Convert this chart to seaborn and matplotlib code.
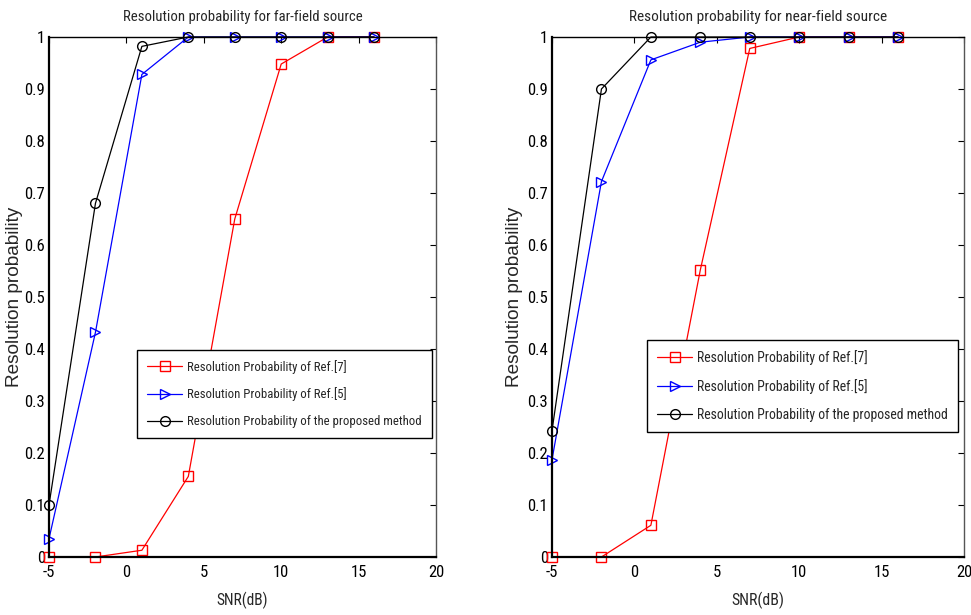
import matplotlib
matplotlib.use("Agg")
import matplotlib.pyplot as plt
from matplotlib import font_manager as fm
from matplotlib.font_manager import FontProperties
from matplotlib.textpath import TextPath
import seaborn as sns
import pandas as pd

sns.set_theme(style="white")
plt.rcParams['font.family'] = ['Liberation Sans', 'DejaVu Sans']

snr = [-5, -2, 1, 4, 7, 10, 13, 16]

far_ref7 = [0.0, 0.0, 0.013, 0.155, 0.65, 0.948, 1.0, 1.0]
far_ref5 = [0.035, 0.432, 0.928, 1.0, 1.0, 1.0, 1.0, 1.0]
far_prop = [0.10, 0.68, 0.982, 1.0, 1.0, 1.0, 1.0, 1.0]

near_ref7 = [0.0, 0.0, 0.061, 0.552, 0.978, 1.0, 1.0, 1.0]
near_ref5 = [0.187, 0.722, 0.956, 0.99, 1.0, 1.0, 1.0, 1.0]
near_prop = [0.243, 0.90, 1.0, 1.0, 1.0, 1.0, 1.0, 1.0]

labels = ["Resolution Probability of Ref.[7]",
          "Resolution Probability of Ref.[5]",
          "Resolution Probability of the proposed method"]
titles = ["Resolution probability for far-field source",
          "Resolution probability for near-field source"]
xlabel = "SNR(dB)"
ylabel = "Resolution probability"
xticks = [-5, 0, 5, 10, 15, 20]
yticks = [0, 0.1, 0.2, 0.3, 0.4, 0.5, 0.6, 0.7, 0.8, 0.9, 1.0]
ytick_labels = ["0", "0.1", "0.2", "0.3", "0.4", "0.5", "0.6", "0.7", "0.8", "0.9", "1"]

colors = ["#ff0000", "#0000ff", "#000000"]
markers = ["s", ">", "o"]

# ---- choose the most condensed-looking installed Latin sans font ----
OK_NAMES = {"Liberation Sans Narrow", "Liberation Sans", "Roboto", "Roboto Condensed",
            "Noto Sans", "Noto Sans Condensed", "Noto Sans SemiCondensed",
            "Noto Sans ExtraCondensed", "Open Sans", "Open Sans Condensed",
            "DejaVu Sans", "DejaVu Sans Condensed", "Lato", "Inter"}
probe = labels[2]
TARGET = 235.0 / 12.3   # width of long legend label / cap height in the reference


def ink(s, fp, size=100):
    e = TextPath((0, 0), s, size=size, prop=fp).get_extents()
    return e.width, e.height


best, best_err = None, 1e9
for f in fm.fontManager.ttflist:
    try:
        w = int(f.weight)
    except Exception:
        w = 400 if str(f.weight) in ("normal", "regular", "book") else 0
    if f.name not in OK_NAMES or f.style != "normal" or w != 400:
        continue
    try:
        fp = FontProperties(fname=f.fname)
        pw, _ = ink(probe, fp)
        _, ch = ink("H", fp)
        err = abs(pw / ch - TARGET)
    except Exception:
        continue
    if err < best_err:
        best, best_err = f.fname, err

PX_PER_PT = 100.0 / 72.0
CAP_PX = 12.3   # cap / digit height of text in the reference
_, CAP_EM = ink("H", FontProperties(fname=best), size=1)


def fit(s, target_px, hw=0.5, maxw=None):
    """size blending a width match and a cap-height match"""
    fp = FontProperties(fname=best)
    w, _ = ink(s, fp, size=10)
    size_w = 10.0 * target_px / (w * PX_PER_PT)
    size_h = CAP_PX / (CAP_EM * PX_PER_PT)
    size = size_w ** (1 - hw) * size_h ** hw
    if maxw is not None:
        size = min(size, 10.0 * maxw / (w * PX_PER_PT))
    fp.set_size(size)
    return fp


fig = plt.figure(figsize=(9.71, 6.15), dpi=100)
ax1 = fig.add_axes([49 / 971, 1 - 557 / 615, 387 / 971, 520 / 615])
ax2 = fig.add_axes([552 / 971, 1 - 557 / 615, 412 / 971, 520 / 615])

# per panel: axes, data, title, title width, legend width, legend box corner,
# xlabel width, ylabel x, legend max text width
panels = [
    (ax1, [far_ref7, far_ref5, far_prop], titles[0], 203, 235, (137, 438), 45, -0.067, 233),
    (ax2, [near_ref7, near_ref5, near_prop], titles[1], 227, 250, (647, 432), 47, -0.070, 250),
]

fp_tick = fit("0.9", 18, hw=0.5)

for ax, series, title, tw, lw, lbox, xw, ylx, lmax in panels:
    for vals, c, m, lab in zip(series, colors, markers, labels):
        df = pd.DataFrame({"SNR": snr, "P": vals})
        sns.lineplot(data=df, x="SNR", y="P", ax=ax, color=c, marker=m,
                     markersize=7, markerfacecolor="none", markeredgecolor=c,
                     markeredgewidth=1.0, linewidth=0.9, label=lab, clip_on=False)
    ax.set_xlim(-5, 20)
    ax.set_ylim(0, 1)
    ax.set_xticks(xticks)
    ax.set_xticklabels([str(t) for t in xticks], fontproperties=fp_tick)
    ax.set_yticks(yticks)
    ax.set_yticklabels(ytick_labels, fontproperties=fp_tick)
    ax.tick_params(direction="in", top=True, right=True, length=4, width=0.8,
                   colors="black")
    ax.tick_params(axis="x", pad=6)
    ax.tick_params(axis="y", pad=3)
    for side, s in ax.spines.items():
        s.set_visible(True)
        s.set_color("black")
        s.set_linewidth(1.6 if side in ("left", "bottom") else 1.0)
    ax.spines["right"].set_color("#555555")

    ax.set_title(title, fontproperties=fit(title, tw, hw=0.5), y=1.038, pad=0,
                 va="center")
    ax.set_xlabel(xlabel, fontproperties=fit(xlabel, xw, hw=0.5))
    ax.xaxis.set_label_coords(0.5, -0.083)
    ax.xaxis.label.set_va("center")
    ax.set_ylabel(ylabel, fontsize=13.7, family=["Liberation Sans", "DejaVu Sans"])
    ax.yaxis.set_label_coords(ylx, 0.5)

    fp_leg = fit(labels[2], lw, hw=0.5, maxw=lmax)
    fs_px = fp_leg.get_size() * PX_PER_PT
    leg = ax.legend(loc="lower left", bbox_to_anchor=(lbox[0] / 971, 1 - lbox[1] / 615),
                    bbox_transform=fig.transFigure, prop=fp_leg, frameon=True,
                    fancybox=False, framealpha=1, edgecolor="black", borderaxespad=0,
                    handlelength=35 / fs_px, handletextpad=5 / fs_px,
                    labelspacing=(0.45 * fs_px + 8) / fs_px, borderpad=10 / fs_px)
    leg.get_frame().set_linewidth(1.0)
    leg.set_zorder(5)

fig.savefig("out.png", dpi=100)
